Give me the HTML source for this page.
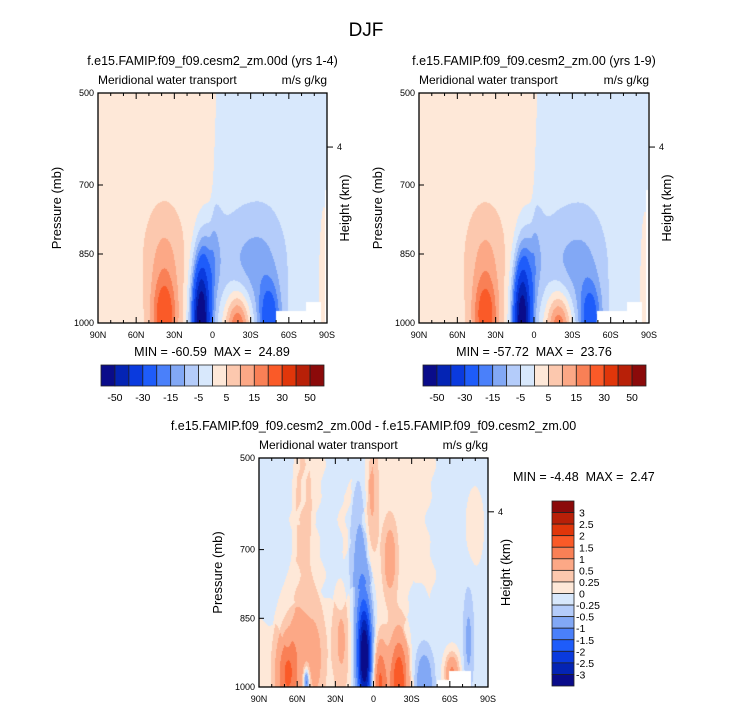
<!DOCTYPE html>
<html><head><meta charset="utf-8">
<style>
body{margin:0;background:#fff;}
#root{position:relative;width:733px;height:712px;overflow:hidden;font-family:"Liberation Sans",sans-serif;}
canvas{position:absolute;}
svg{position:absolute;left:0;top:0;}
text{white-space:pre;}
</style></head>
<body>
<div id="root">
<canvas id="c1" width="229" height="230" style="left:98px;top:93px"></canvas>
<canvas id="c2" width="229" height="230" style="left:419px;top:93px"></canvas>
<canvas id="c3" width="229" height="229" style="left:259px;top:458px"></canvas>
<svg id="s" width="733" height="712"></svg>
</div>
<script>
// ---- data ----
const colors = ["#0a0c8a","#0424b4","#0a3ade","#1e5cfa","#4a80fa","#82a8f5","#b4ccfa","#d8e8fc","#fee8d8","#fcc8ae","#fca886","#f98056","#fa5a28","#e0360a","#b82008","#8b0a0a"];
const levelsMain = [-50,-40,-30,-20,-15,-10,-5,0,5,10,15,20,30,40,50];
const levelsMainLabels = ["-50","-30","-15","-5","5","15","30","50"];
const levelsDiff = [-3,-2.5,-2,-1.5,-1,-0.5,-0.25,0,0.25,0.5,1,1.5,2,2.5,3];
const levelsDiffLabels = ["-3","-2.5","-2","-1.5","-1","-0.5","-0.25","0","0.25","0.5","1","1.5","2","2.5","3"];
const latTicks = [90,60,30,0,-30,-60,-90];
const latTickLabels = ["90N","60N","30N","0","30S","60S","90S"];
const presTicks = [500,700,850,1000];
// blobs: lat, pressure, amplitude, sigma-lat, sigma-p
const blobLat1 = [38, 38, 9, 2, -20, -45, -28, -88, -42];
const blobP1   = [990,860,1000,860,1010,995,880,950,870];
const blobAmp1 = [22, 8, -66, -10, 25, -22, -8, 5, -3];
const blobSL1  = [7, 10, 5, 6, 7, 6, 16, 4, 10];
const blobSP1  = [60, 75, 90, 70, 55, 55, 80, 200, 80];
const panel2Scale = 0.95;
const blobLat3 = [55, 68, 53, 2, -13, 7, 9, -5, -20, -40, -62, -75, 25, -80, 60, 45];
const blobP3   = [600,980,990,600,720,940,800,990,990,990,970,900,900,650,900,950];
const blobAmp3 = [0.2,1.3,-1.5,0.6,0.7,-3.4,-0.8,1.5,1.9,-0.8,1.2,-0.5,0.5,0.3,0.5,0.4];
const blobSL3  = [8, 6, 1.5, 4, 4, 4, 6, 4, 5, 5, 4, 3, 5, 5, 10, 5];
const blobSP3  = [150,60,20,120,60,80,150,60,70,50,30,80,80,60,80,80];
const min1="-60.59", max1="24.89", min2="-57.72", max2="23.76", min3="-4.48", max3="2.47";

function yOfP(p,top,h){return top+(p-500)/500*h;}
function field(lat,p,L,P,A,SL,SP,base,scale){
  let v=base(lat,p);
  for(let i=0;i<L.length;i++){const dl=(lat-L[i])/SL[i], dp=(p-P[i])/SP[i];v+=A[i]*scale*Math.exp(-0.5*(dl*dl+dp*dp));}
  return v;
}
function hex(c){return [parseInt(c.slice(1,3),16),parseInt(c.slice(3,5),16),parseInt(c.slice(5,7),16)];}
const rgb=colors.map(hex);
function idx(v,lev){let k=0;while(k<lev.length&&v>=lev[k])k++;return k;}
function draw(id,L,P,A,SL,SP,base,scale,lev,masks){
  const c=document.getElementById(id),ctx=c.getContext('2d');const W=c.width,H=c.height;
  const img=ctx.createImageData(W,H);
  for(let y=0;y<H;y++)for(let x=0;x<W;x++){
    const lat=90-x/(W-1)*180, p=500+y/(H-1)*500;
    let col=rgb[idx(field(lat,p,L,P,A,SL,SP,base,scale),lev)];
    for(const m of masks){if(lat<=m[0]&&lat>=m[1]&&p>=m[2])col=[255,255,255];}
    const o=(y*W+x)*4;img.data[o]=col[0];img.data[o+1]=col[1];img.data[o+2]=col[2];img.data[o+3]=255;
  }
  ctx.putImageData(img,0,0);
}
const base1=(lat,p)=>3*Math.tanh((lat-(-3+(p-500)/500*6))/2);
const masks1=[[-50,-74,975],[-74,-86,955],[-88.5,-90,710]];
draw('c1',blobLat1,blobP1,blobAmp1,blobSL1,blobSP1,base1,1,levelsMain,masks1);
draw('c2',blobLat1,blobP1,blobAmp1,blobSL1,blobSP1,base1,panel2Scale,levelsMain,masks1);
const base3=(lat0,p0)=>{
  const lat=lat0+3*Math.sin(p0/37)+1.5*Math.sin(p0/13);
  const p=p0+25*Math.sin(lat0/6)+10*Math.sin(lat0/2.3);
  let v=-0.1;
  if(lat>62){ v = p>880?0.1:-0.1; }
  else if(lat>42){ v=0.1; if(lat<58&&lat>54&&p<640)v=-0.1; }
  else if(lat>5){ v = p>800?0.1:-0.1; if(lat>18&&lat<24&&p<700&&p>560)v=0.1; }
  else if(lat>-28){ v=0.1; }
  else if(lat>-45){ v = p<780?0.1:-0.1; }
  return v;};
draw('c3',blobLat3,blobP3,blobAmp3,blobSL3,blobSP3,base3,1,levelsDiff,[[-50,-60,985],[-60,-77,965]]);

// ---- annotations ----
const S=document.getElementById('s');const NS="http://www.w3.org/2000/svg";
function el(t,a,txt){const e=document.createElementNS(NS,t);for(const k in a)e.setAttribute(k,a[k]);if(txt!==undefined)e.textContent=txt;S.appendChild(e);return e;}
function txt(x,y,s,size,anchor,name,rot){const a={x:x,y:y,'font-size':size,'text-anchor':anchor||'middle','font-family':'Liberation Sans, sans-serif',fill:'#000'};if(rot)a.transform=`rotate(-90 ${x} ${y})`;const e=el('text',a,s);return e;}
txt(366,36,"DJF",19,'middle','main-title');
function panel(L,T,W,H,title,minS,maxS,pn,statsPos){
  const fr=el('rect',{x:L,y:T,width:W,height:H,fill:'none',stroke:'#000','stroke-width':1.3});
  
  txt(L+W/2,T-28,title,12.5,'middle',pn+'-title');
  txt(L,T-9,"Meridional water transport",12,'start',pn+'-variable-label');
  txt(L+W,T-9,"m/s g/kg",12,'end',pn+'-units-label');
  for(let d=90;d>=-90;d-=10){const x=L+(90-d)/180*W;const major=d%30===0;const len=major?6:3;
    el('line',{x1:x,y1:T+H,x2:x,y2:T+H-len,stroke:'#000','stroke-width':1});
    el('line',{x1:x,y1:T,x2:x,y2:T+len,stroke:'#000','stroke-width':1});}
  latTicks.forEach((d,i)=>{const x=L+(90-d)/180*W;txt(x,T+H+15,latTickLabels[i],9,'middle',pn+'-x-tick-label');});
  presTicks.forEach(p=>{const y=yOfP(p,T,H);el('line',{x1:L,y1:y,x2:L+5,y2:y,stroke:'#000'});txt(L-4,y+3,String(p),9,'end',pn+'-y-tick-label');});
  const y4=T+H*0.235;el('line',{x1:L+W,y1:y4,x2:L+W+6,y2:y4,stroke:'#000'});txt(L+W+10,y4+3,"4",9,'start',pn+'-height-tick-label');
  txt(L-37,T+H/2,"Pressure (mb)",13,'middle',pn+'-y-axis-title',true);
  txt(L+W+22,T+H/2,"Height (km)",13,'middle',pn+'-right-axis-title',true);
  txt(statsPos[0],statsPos[1],`MIN = ${minS}  MAX =  ${maxS}`,12.5,statsPos[2],pn+'-min-max-label');
}
function hbar(L,T,W,H,pn){
  const n=colors.length,bw=W/n;
  colors.forEach((c,i)=>{const r=el('rect',{x:L+i*bw,y:T,width:bw,height:H,fill:c,stroke:'#222','stroke-width':0.8});});
  levelsMainLabels.forEach((s,j)=>{txt(L+(2*j+1)*bw,T+H+15,s,10.5,'middle',pn+'-colorbar-label');});
}
panel(98,93,229,230,"f.e15.FAMIP.f09_f09.cesm2_zm.00d (yrs 1-4)",min1,max1,'panel-1',[212,356,'middle']);
panel(419,93,230,230,"f.e15.FAMIP.f09_f09.cesm2_zm.00 (yrs 1-9)",min2,max2,'panel-2',[534,356,'middle']);
panel(259,458,229,229,"f.e15.FAMIP.f09_f09.cesm2_zm.00d - f.e15.FAMIP.f09_f09.cesm2_zm.00",min3,max3,'panel-diff',[513,481,'start']);
hbar(101,365,223,21,'panel-1');
hbar(423,365,223,21,'panel-2');
// vertical colorbar
(function(){const L=552,T=501,W=22,H=185,n=colors.length,bh=H/n;
  for(let i=0;i<n;i++){const r=el('rect',{x:L,y:T+i*bh,width:W,height:bh,fill:colors[n-1-i],stroke:'#222','stroke-width':0.8});}
  levelsDiffLabels.forEach((s,j)=>{const y=T+(n-1-j)*bh;txt(s[0]==='-'?576:579,y+4,s,10.5,'start','diff-colorbar-label');});
})();
</script>
</body></html>
